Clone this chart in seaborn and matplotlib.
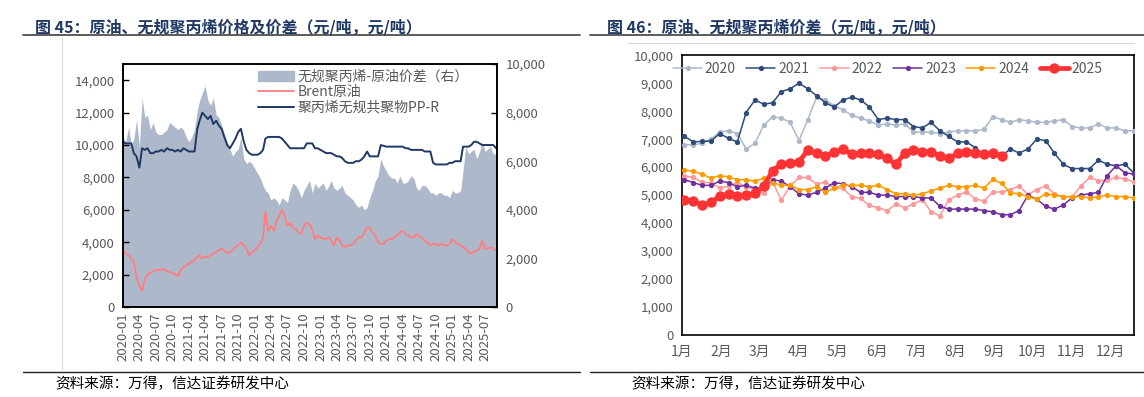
import pandas as pd
import numpy as np
import seaborn as sns
import matplotlib.pyplot as plt
from matplotlib.lines import Line2D
from matplotlib.patches import Patch
from matplotlib.ticker import FuncFormatter

sns.set_theme(style='white')
plt.rcParams['font.family'] = ['Noto Sans CJK SC', 'DejaVu Sans']
plt.rcParams['axes.unicode_minus'] = False

# ---------- 图45 数据（半月度读数） ----------
spread = [
    # 2020
    7000, 6800, 7400, 6700, 6900, 7700, 6600, 8600, 7800, 7900, 7300, 7600,
    7200, 7100, 7100, 7200, 7300, 7600, 7500, 7400, 7300, 7400, 7300, 7000,
    # 2021
    6800, 7000, 7300, 8100, 8500, 8800, 9100, 8500, 8300, 8600, 7900, 7800,
    7500, 7100, 6800, 6500, 6200, 6400, 6500, 7000, 6100, 5900, 6000, 5900,
    # 2022
    5700, 5500, 5300, 5000, 4800, 4700, 4400, 4500, 4400, 4200, 4500, 4400,
    4300, 4800, 5100, 5000, 4800, 4500, 4800, 5000, 5200, 4700, 5100, 4900,
    # 2023
    5000, 5100, 4800, 5000, 5200, 4900, 4800, 4900, 5000, 4700, 4600, 4500,
    4400, 4200, 4100, 4200, 4000, 4100, 4500, 4800, 5200, 5400, 6100, 5800,
    # 2024
    5600, 5400, 5300, 5300, 5100, 5400, 5100, 5100, 5200, 5400, 5300, 4900,
    4800, 5000, 5000, 4900, 4700, 4700, 4600, 4700, 4700, 4600, 4600, 4500,
    # 2025
    4800, 4700, 4700, 4800, 5600, 6600, 6300, 6400, 6500, 6100, 6400, 6800,
    6400, 6500, 6600, 6300, 6300,
]
brent = [
    3500, 3300, 3200, 3000, 2800, 1900, 1300, 1000, 1700, 2000, 2100, 2200,
    2300, 2300, 2300, 2350, 2200, 2150, 2100, 2050, 1900, 2300, 2450, 2550,
    2700, 2800, 2900, 3100, 3200, 3000, 3100, 3100, 3200, 3300, 3400, 3500,
    3600, 3500, 3300, 3400, 3500, 3700, 3800, 4000, 3800, 3600, 3200, 3400,
    3500, 3700, 3900, 4300, 5900, 4700, 5000, 4700, 5300, 5600, 6000, 5600,
    5000, 5200, 4900, 4800, 4600, 4500, 5000, 5200, 5100, 4800, 4200, 4400,
    4300, 4200, 4200, 4300, 4100, 3800, 4300, 4100, 3800, 3700, 3800, 3800,
    3900, 4100, 4300, 4300, 4600, 4900, 4900, 4600, 4400, 4000, 3900, 3900,
    4100, 4200, 4200, 4300, 4400, 4600, 4700, 4500, 4400, 4300, 4300, 4500,
    4400, 4300, 4100, 4000, 3800, 3900, 3900, 3800, 3900, 3800, 3800, 3900,
    4200, 4000, 3900, 3800, 3700, 3600, 3400, 3300, 3400, 3500, 3600, 4100,
    3600, 3600, 3700, 3600, 3500,
]
pp_r = [
    10200, 10100, 10100, 10100, 9500, 9300, 8600, 9800, 9700, 9800, 9500, 9500,
    9600, 9600, 9700, 9600, 9800, 9700, 9700, 9600, 9700, 9600, 9800, 9700,
    9600, 9600, 9600, 11000, 11500, 12000, 11800, 11600, 11800, 11300, 11500, 11200,
    11000, 10500, 10000, 9800, 10100, 10400, 10800, 11000, 10200, 9700, 9500, 9400,
    9400, 9400, 9500, 9700, 10400, 10500, 10500, 10500, 10500, 10500, 10400, 10200,
    10000, 9800, 9800, 9800, 9800, 9800, 9800, 10100, 10100, 10100, 9800, 9800,
    9700, 9600, 9500, 9500, 9500, 9400, 9300, 9300, 9200, 9000, 8900, 8900,
    8900, 9000, 9000, 9100, 9300, 9600, 9300, 9300, 9300, 9300, 10000, 9950,
    9900, 9900, 9900, 9900, 9900, 9900, 9900, 9800, 9800, 9700, 9700, 9700,
    9700, 9700, 9600, 9600, 9600, 8900, 8800, 8800, 8800, 8800, 8800, 8900,
    8900, 9000, 9000, 9000, 9900, 9900, 9900, 10000, 10200, 10200, 10100, 10000,
    10000, 10000, 10000, 10000, 9800,
]
dates = pd.to_datetime([f'{y}-{m:02d}-{d:02d}' for y in range(2020, 2026)
                        for m in range(1, 13) for d in (1, 16)
                        if (y, m) <= (2025, 8)] + ['2025-09-01'])

# ---------- 图46 数据（周度读数） ----------
years = ['2020', '2021', '2022', '2023', '2024', '2025']
y2020 = [6800, 6800, 6850, 7000, 7250, 7300, 7200, 6650, 6850, 7500, 7800, 7750, 7600,
         6950, 7700, 8500, 8400, 8200, 8050, 7850, 7750, 7650, 7500, 7550, 7500, 7550,
         7250, 7250, 7250, 7200, 7250, 7300, 7300, 7300, 7350, 7800, 7700, 7600, 7700,
         7650, 7600, 7600, 7650, 7700, 7450, 7400, 7400, 7550, 7400, 7400, 7300, 7300]
y2021 = [7100, 6900, 6920, 6930, 7200, 7030, 6900, 7950, 8400, 8250, 8300, 8700, 8800,
         9000, 8800, 8550, 8300, 8150, 8400, 8500, 8400, 8150, 7700, 7750, 7700, 7700,
         7450, 7400, 7600, 7300, 7100, 6900, 6900, 6700, 6450, 6400, 6400, 6650, 6500,
         6650, 7000, 6950, 6500, 6100, 5950, 5950, 5950, 6250, 6100, 6050, 6100, 5800]
y2022 = [5680, 5630, 5460, 5440, 5260, 5320, 5450, 5300, 5200, 5060, 5480, 4820, 5330,
         5630, 5630, 5380, 5480, 5240, 5240, 4940, 4880, 4630, 4550, 4440, 4680, 4550,
         4680, 4840, 4400, 4260, 4840, 5000, 5110, 4870, 4790, 5110, 5110, 5200, 5330,
         5020, 5200, 5330, 5040, 4940, 4940, 5330, 5630, 5510, 5540, 5630, 5580, 5480]
y2023 = [5550, 5450, 5350, 5350, 5500, 5450, 5300, 5350, 5250, 5250, 5550, 5500, 5300,
         5050, 5000, 5100, 5250, 5450, 5400, 5300, 5100, 5100, 5000, 5000, 4950, 4950,
         4950, 4900, 4900, 4600, 4500, 4500, 4500, 4500, 4450, 4400, 4300, 4300, 4450,
         5000, 4850, 4600, 4500, 4650, 4900, 5000, 5050, 5100, 5700, 6050, 5800, 5750]
y2024 = [5900, 5850, 5750, 5600, 5700, 5650, 5550, 5550, 5500, 5600, 5450, 5350, 5350,
         5200, 5200, 5300, 5100, 5250, 5350, 5350, 5350, 5300, 5350, 5200, 5050, 5050,
         5000, 5050, 5150, 5250, 5350, 5300, 5300, 5350, 5250, 5560, 5420, 5080, 5050,
         4950, 4850, 5050, 5000, 4950, 4950, 4950, 4900, 4950, 5000, 4950, 4950, 4900]
y2025 = [4820, 4790, 4640, 4740, 4960, 5040, 4960, 5000, 5060, 5320, 5870, 6110, 6130,
         6190, 6610, 6490, 6390, 6540, 6640, 6460, 6490, 6500, 6460, 6310, 6100, 6500,
         6630, 6550, 6550, 6390, 6310, 6490, 6550, 6520, 6460, 6490, 6400]
year_colors = ['#adb9ca', '#2f4b7c', '#ff9999', '#7030a0', '#ff9900', '#ff3333']
months = [f'{m}月' for m in range(1, 13)]

grey = '#595959'
fig = plt.figure(figsize=(11.44, 3.97), dpi=100)

# ================= 左图 =================
ax = fig.add_axes([0.1075, 0.2267, 0.327, 0.612])
axr = ax.twinx()
axr.fill_between(dates, spread, color='#adb9ca', lw=0)
sns.lineplot(x=dates, y=brent, ax=ax, color='#ff7c80', lw=1.3)
sns.lineplot(x=dates, y=pp_r, ax=ax, color='#203864', lw=1.4)
ax.set_zorder(axr.get_zorder() + 1)
ax.patch.set_visible(False)

xmin, xmax = pd.Timestamp('2020-01-01'), pd.Timestamp('2025-09-06')
ax.set_xlim(xmin, xmax)
ax.set_ylim(0, 15000)
ax.set_yticks(range(0, 15000, 2000))
axr.set_ylim(0, 10000)
axr.set_yticks(range(0, 10001, 2000))
qticks = pd.date_range('2020-01-01', '2025-07-01', freq='QS')
ax.set_xticks(qticks)
ax.set_xticklabels([d.strftime('%Y-%m') for d in qticks], rotation=90, fontsize=9.5,
                   color=grey)
fmt = FuncFormatter(lambda v, p: f'{v:,.0f}')
ax.yaxis.set_major_formatter(fmt)
axr.yaxis.set_major_formatter(fmt)
ax.tick_params(axis='y', labelsize=9.5, labelcolor=grey, color='black', direction='in',
               length=4, width=1, pad=6)
ax.tick_params(axis='x', direction='in', length=4, width=1, color='black', pad=4)
axr.tick_params(axis='y', labelsize=9.5, labelcolor=grey, direction='in', length=4,
                width=1, color='black', pad=6)
for a in (ax, axr):
    for s in a.spines.values():
        s.set_color('black')
        s.set_linewidth(1.2)
ax.set_xlabel('')
ax.set_ylabel('')

handles = [Patch(color='#adb9ca'),
           Line2D([], [], color='#ff7c80', lw=1.3),
           Line2D([], [], color='#203864', lw=1.4)]
labels = ['无规聚丙烯-原油价差（右）', 'Brent原油', '聚丙烯无规共聚物PP-R']
ax.legend(handles, labels, loc='upper left', bbox_to_anchor=(0.345, 1.0), frameon=False,
          fontsize=10, labelcolor=grey, handlelength=2.6, handletextpad=0.3,
          labelspacing=0.12, borderaxespad=0)

# ================= 右图 =================
ax2 = fig.add_axes([0.596, 0.156, 0.395, 0.705])
series = [y2020, y2021, y2022, y2023, y2024, y2025]
for yr, vals, c in zip(years, series, year_colors):
    big = yr == '2025'
    sns.lineplot(x=np.arange(len(vals)), y=vals, ax=ax2, color=c,
                 lw=3.4 if big else 1.1, marker='o', markersize=7.5 if big else 3.8,
                 markeredgewidth=0, label=yr, zorder=5 if big else 3)
ax2.set_xlim(0, 51)
ax2.set_ylim(0, 10000)
ax2.set_yticks(range(0, 10001, 1000))
ax2.yaxis.set_major_formatter(fmt)
ax2.set_xticks(np.linspace(-0.3, 48.4, 12))
ax2.set_xticklabels(months, fontsize=10, color=grey)
ax2.tick_params(axis='y', labelsize=9.5, colors=grey, length=0, pad=6)
ax2.tick_params(axis='x', length=0, pad=7)
for s in ax2.spines.values():
    s.set_color('black')
    s.set_linewidth(1.2)
ax2.legend(loc='upper left', bbox_to_anchor=(-0.035, 1.0), ncol=6, frameon=False,
           fontsize=10, labelcolor=grey, handlelength=2.1, handletextpad=0.2,
           columnspacing=0.75, borderaxespad=0.3, borderpad=0.2)

# ================= 标题、来源、分隔线 =================
title_c = '#1f3864'
fig.text(0.031, 0.932, '图 45：原油、无规聚丙烯价格及价差（元/吨，元/吨）', fontsize=11.5,
         fontweight='bold', color=title_c, va='center')
fig.text(0.531, 0.932, '图 46：原油、无规聚丙烯价差（元/吨，元/吨）', fontsize=11.5,
         fontweight='bold', color=title_c, va='center')
for x0, x1 in ((0.020, 0.507), (0.516, 1.0)):
    fig.add_artist(Line2D([x0, x1], [0.912, 0.912], color='#404040', lw=1.2))
    fig.add_artist(Line2D([x0, x1], [0.063, 0.063], color='#202020', lw=1.0))
fig.add_artist(Line2D([0.054, 0.054], [0.065, 0.905], color='#d9d9d9', lw=0.8))
fig.add_artist(Line2D([0.549, 0.991], [0.892, 0.892], color='#d9d9d9', lw=0.8))
fig.text(0.048, 0.033, '资料来源：万得，信达证券研发中心', fontsize=10.5, color='black',
         va='center', style='italic')
fig.text(0.552, 0.033, '资料来源：万得，信达证券研发中心', fontsize=10.5, color='black',
         va='center', style='italic')

fig.savefig('out.png', dpi=100)
